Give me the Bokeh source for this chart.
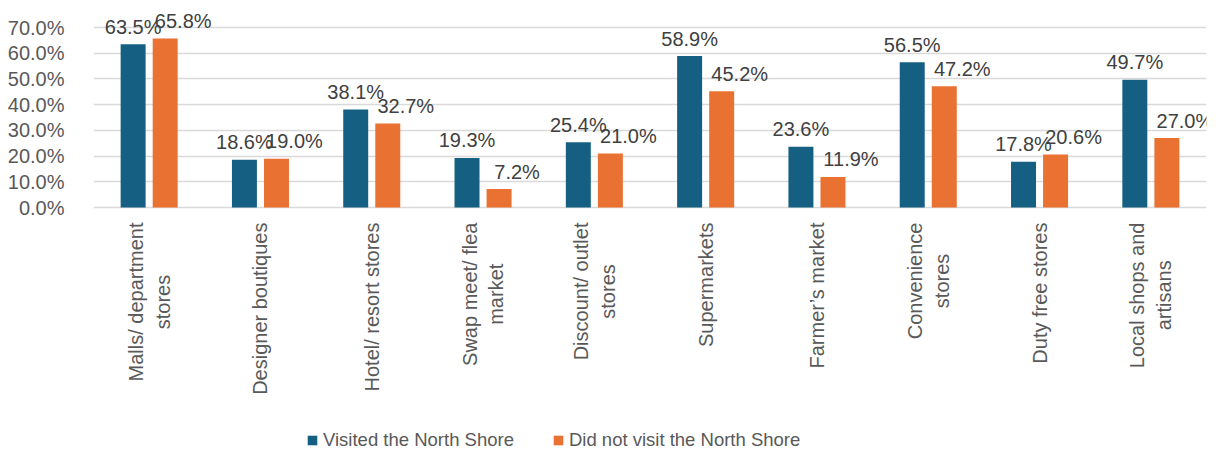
import math
from bokeh.plotting import figure
from bokeh.models import ColumnDataSource, FixedTicker, PrintfTickFormatter, Legend, LegendItem
from bokeh.transform import dodge
from bokeh.core.properties import value
from bokeh.embed import file_html
from bokeh.resources import INLINE

categories = [
    "Malls/ department\nstores",
    "Designer boutiques",
    "Hotel/ resort stores",
    "Swap meet/ flea\nmarket",
    "Discount/ outlet\nstores",
    "Supermarkets",
    "Farmer\u2019s market",
    "Convenience\nstores",
    "Duty free stores",
    "Local shops and\nartisans",
]
visited = [63.5, 18.6, 38.1, 19.3, 25.4, 58.9, 23.6, 56.5, 17.8, 49.7]
not_visited = [65.8, 19.0, 32.7, 7.2, 21.0, 45.2, 11.9, 47.2, 20.6, 27.0]
y_ticks = [0, 10, 20, 30, 40, 50, 60, 70]
series_names = ["Visited the North Shore", "Did not visit the North Shore"]

BLUE = "#156082"
ORANGE = "#E97132"
FONT = "Liberation Sans"
AXIS_TEXT = "#595959"
LABEL_TEXT = "#404040"

src = ColumnDataSource(dict(
    cat=categories,
    v=visited,
    n=not_visited,
    vl=[f"{x:.1f}%" for x in visited],
    nl=[f"{x:.1f}%" for x in not_visited],
    zero=[0] * len(categories),
))

# y range extends below zero so the category labels and legend sit inside the frame
p = figure(
    x_range=categories, y_range=(-95.3, 78.2),
    width=1219, height=452,
    output_backend="svg", toolbar_location=None,
    x_axis_location=None,
    min_border_left=93, min_border_right=13, min_border_top=6, min_border_bottom=0,
)
p.outline_line_color = None
p.background_fill_color = "white"
p.border_fill_color = "white"

off = 0.144
bw = 0.2245
r1 = p.vbar(x=dodge("cat", -off, range=p.x_range), top="v", width=bw, source=src,
            fill_color=BLUE, line_color=None)
r2 = p.vbar(x=dodge("cat", off, range=p.x_range), top="n", width=bw, source=src,
            fill_color=ORANGE, line_color=None)

# data labels
p.text(x=dodge("cat", -off, range=p.x_range), y="v", text="vl", source=src,
       text_font=value(FONT), text_font_size="20px", text_color=LABEL_TEXT,
       text_align="center", text_baseline="alphabetic", y_offset=-17.5)
p.text(x=dodge("cat", off, range=p.x_range), y="n", text="nl", source=src,
       text_font=value(FONT), text_font_size="20px", text_color=LABEL_TEXT,
       text_align="center", text_baseline="alphabetic", y_offset=-17.5, x_offset=18)

# category labels (rotated, lines centred, block anchored under the baseline)
p.text(x="cat", y="zero", text="cat", source=src,
       text_font=value(FONT), text_font_size="20px", text_color=AXIS_TEXT,
       text_align="center", anchor="center_right", angle=math.pi / 2,
       y_offset=15, text_line_height=1.22)

# y axis
p.yaxis.ticker = FixedTicker(ticks=y_ticks)
p.yaxis.formatter = PrintfTickFormatter(format="%.1f%%")
p.yaxis.axis_line_color = None
p.yaxis.major_tick_line_color = None
p.yaxis.minor_tick_line_color = None
p.yaxis.major_label_standoff = 23
p.yaxis.major_label_text_font = FONT
p.yaxis.major_label_text_font_size = "20px"
p.yaxis.major_label_text_color = AXIS_TEXT

p.xgrid.grid_line_color = None
p.ygrid.grid_line_color = "#D9D9D9"
p.ygrid.grid_line_width = 1.3

legend = Legend(
    items=[LegendItem(label=series_names[0], renderers=[r1]),
           LegendItem(label=series_names[1], renderers=[r2])],
    orientation="horizontal",
    location=(213, 0),
    label_text_font=FONT, label_text_font_size="18.5px", label_text_color=AXIS_TEXT,
    glyph_width=12, glyph_height=12, label_standoff=5, spacing=38,
    padding=0, margin=0, label_height=24,
    background_fill_alpha=0, border_line_color=None,
)
p.add_layout(legend)

open("out.html", "w").write(file_html(p, INLINE))
